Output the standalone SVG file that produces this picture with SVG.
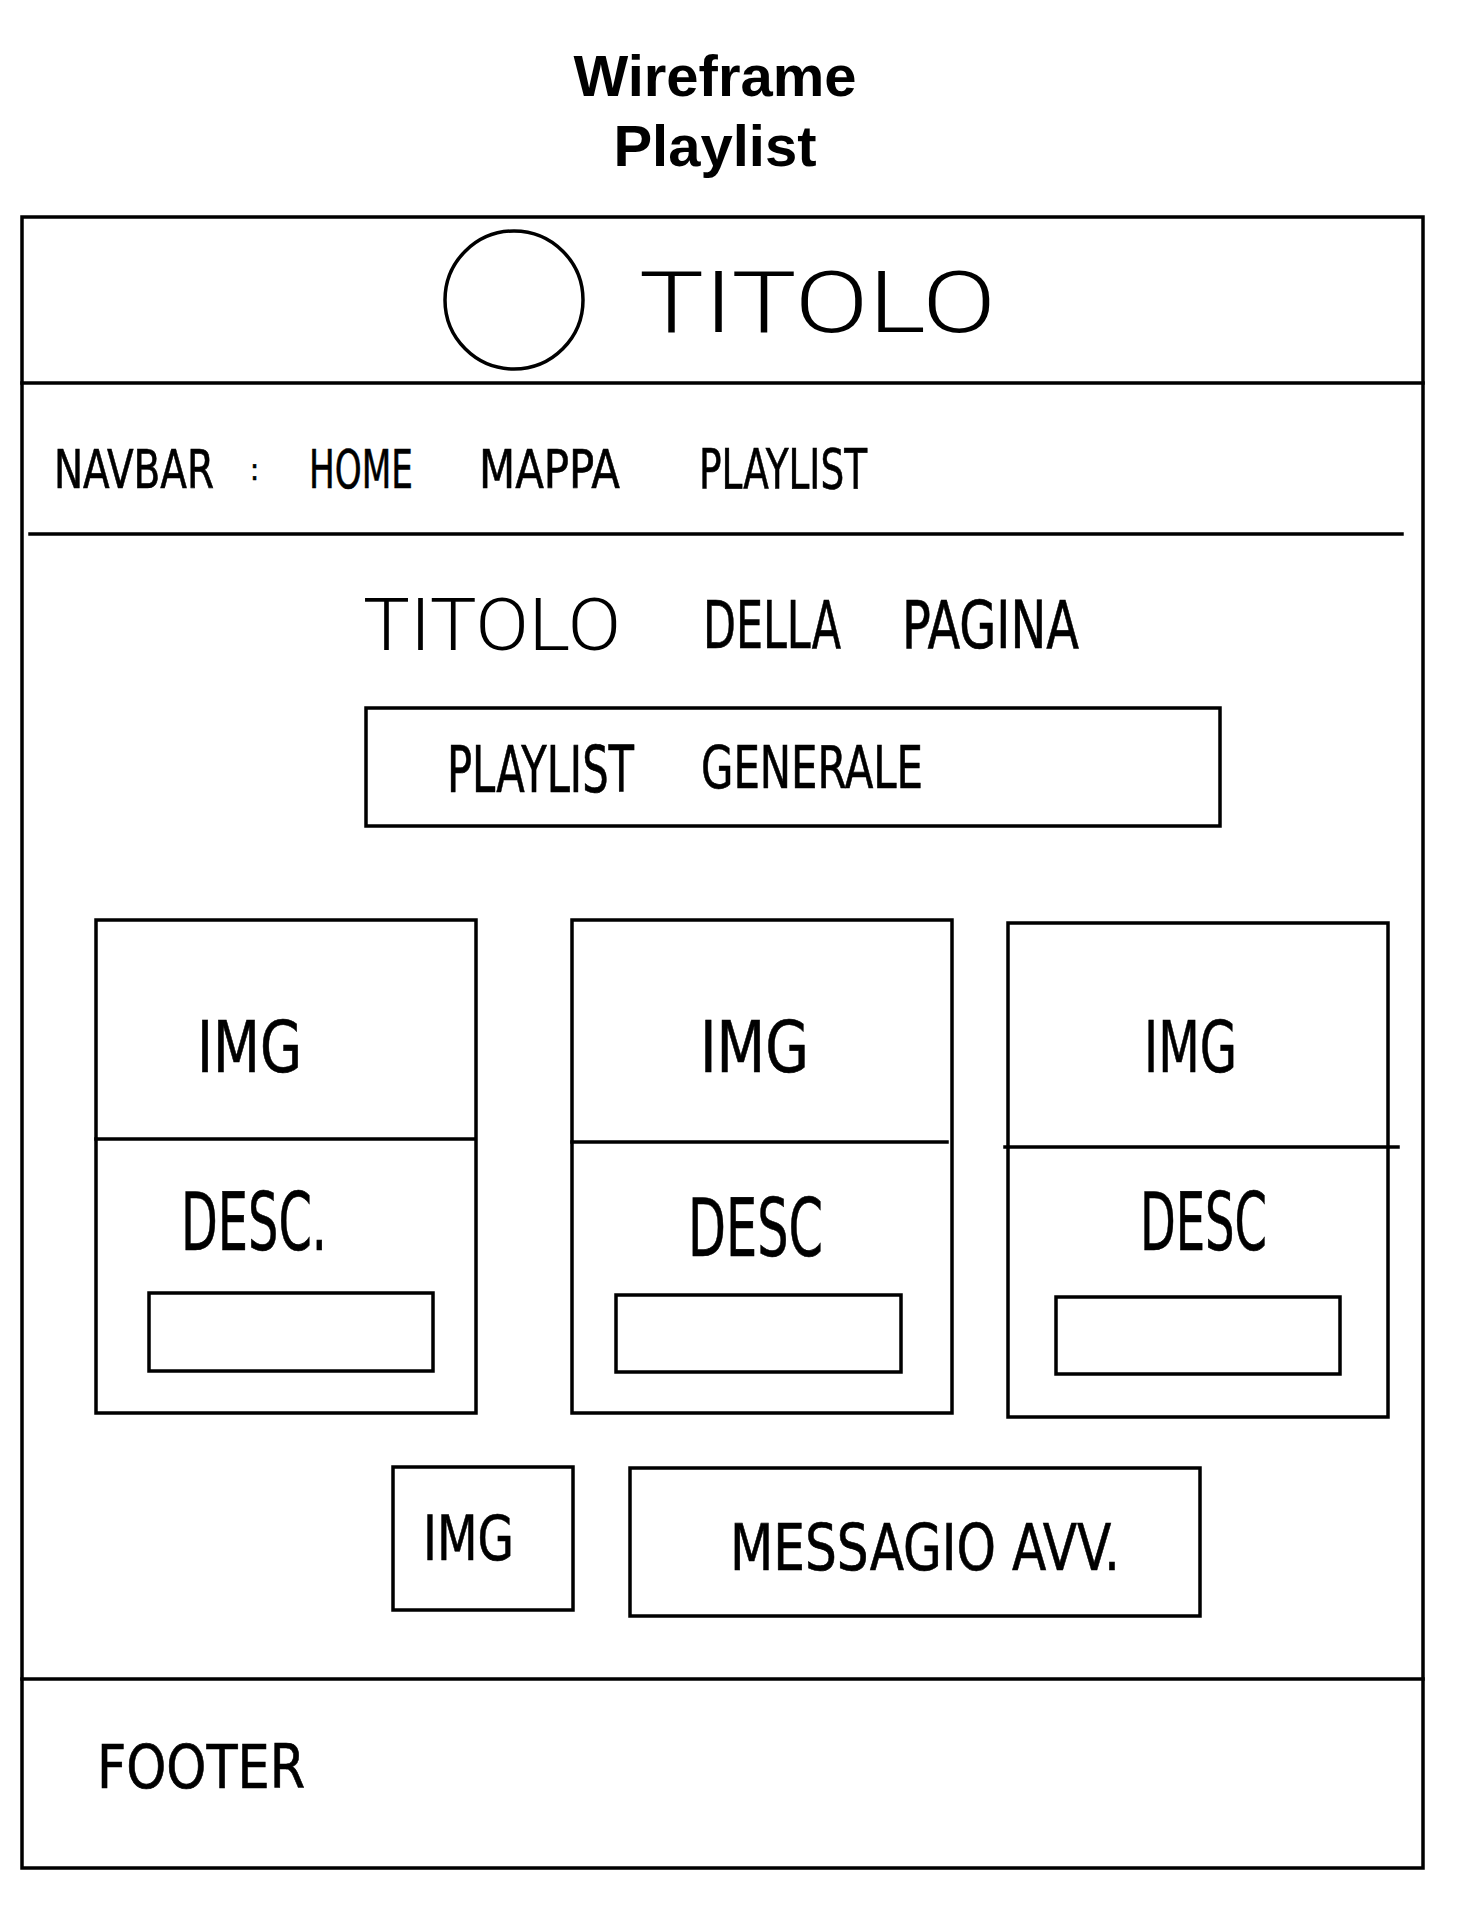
<svg xmlns="http://www.w3.org/2000/svg" width="1458" height="1912" viewBox="0 0 1458 1912">
<style>
.ln{fill:none;stroke:#000;stroke-width:3.5;stroke-linecap:square}
.bx{fill:none;stroke:#000;stroke-width:3.5}
.tt{font-family:"Liberation Sans",Arial,sans-serif;font-weight:bold;font-size:58px;fill:#000;text-anchor:middle}
.hw{font-family:"DejaVu Sans Condensed","DejaVu Sans",sans-serif;fill:#000;stroke:#000;stroke-width:0.6;font-weight:normal}
.thin{font-family:Roboto,"DejaVu Sans",sans-serif;font-weight:300;fill:#000}
</style>
<rect width="1458" height="1912" fill="#fff"/>
<g id="title">
<text class="tt" x="715" y="96">Wireframe</text>
<text class="tt" x="715" y="166">Playlist</text>
</g>
<g id="page">
<rect class="bx" x="22" y="217" width="1401" height="1651"/>
</g>
<g id="header">
<line class="ln" x1="22" y1="383" x2="1423" y2="383"/>
<circle cx="514" cy="300" r="69" fill="none" stroke="#000" stroke-width="3.5"/>
<text class="thin" x="639" y="332" font-size="86" textLength="357" lengthAdjust="spacingAndGlyphs">TITOLO</text>
</g>
<g id="navbar">
<line class="ln" x1="30" y1="534" x2="1402" y2="534"/>
<text class="hw" x="54" y="488" font-size="54" textLength="160" lengthAdjust="spacingAndGlyphs">NAVBAR</text>
<text class="hw" x="250" y="480" font-size="30" stroke-width="0.3">:</text>
<text class="hw" x="309" y="488" font-size="54" textLength="104" lengthAdjust="spacingAndGlyphs">HOME</text>
<text class="hw" x="479" y="488" font-size="54" textLength="141" lengthAdjust="spacingAndGlyphs">MAPPA</text>
<text class="hw" x="699" y="488" font-size="56" textLength="168" lengthAdjust="spacingAndGlyphs">PLAYLIST</text>
</g>
<g id="page-title">
<text class="thin" x="363" y="650" font-size="72" textLength="258" lengthAdjust="spacingAndGlyphs">TITOLO</text>
<text class="hw" x="703" y="648" font-size="66" textLength="138" lengthAdjust="spacingAndGlyphs">DELLA</text>
<text class="hw" x="902" y="648" font-size="66" textLength="177" lengthAdjust="spacingAndGlyphs">PAGINA</text>
</g>
<g id="playlist-generale">
<rect class="bx" x="366" y="708" width="854" height="118"/>
<text class="hw" x="447" y="792" font-size="64" textLength="187" lengthAdjust="spacingAndGlyphs">PLAYLIST</text>
<text class="hw" x="701" y="788" font-size="58" textLength="222" lengthAdjust="spacingAndGlyphs">GENERALE</text>
</g>
<g id="card-1">
<rect class="bx" x="96" y="920" width="380" height="493"/>
<line class="ln" x1="96" y1="1139" x2="474" y2="1139"/>
<text class="hw" x="197" y="1072" font-size="72" textLength="105" lengthAdjust="spacingAndGlyphs">IMG</text>
<text class="hw" x="181" y="1250" font-size="80" textLength="146" lengthAdjust="spacingAndGlyphs">DESC.</text>
<rect class="bx" x="149" y="1293" width="284" height="78"/>
</g>
<g id="card-2">
<rect class="bx" x="572" y="920" width="380" height="493"/>
<line class="ln" x1="572" y1="1142" x2="947" y2="1142"/>
<text class="hw" x="700" y="1072" font-size="72" textLength="109" lengthAdjust="spacingAndGlyphs">IMG</text>
<text class="hw" x="688" y="1256" font-size="80" textLength="135" lengthAdjust="spacingAndGlyphs">DESC</text>
<rect class="bx" x="616" y="1295" width="285" height="77"/>
</g>
<g id="card-3">
<rect class="bx" x="1008" y="923" width="380" height="494"/>
<line class="ln" x1="1005" y1="1147" x2="1398" y2="1147"/>
<text class="hw" x="1144" y="1072" font-size="72" textLength="93" lengthAdjust="spacingAndGlyphs">IMG</text>
<text class="hw" x="1140" y="1250" font-size="80" textLength="127" lengthAdjust="spacingAndGlyphs">DESC</text>
<rect class="bx" x="1056" y="1297" width="284" height="77"/>
</g>
<g id="img-small">
<rect class="bx" x="393" y="1467" width="180" height="143"/>
<text class="hw" x="423" y="1560" font-size="62" textLength="91" lengthAdjust="spacingAndGlyphs">IMG</text>
</g>
<g id="messaggio">
<rect class="bx" x="630" y="1468" width="570" height="148"/>
<text class="hw" x="730" y="1570" font-size="64" textLength="390" lengthAdjust="spacingAndGlyphs">MESSAGIO  AVV.</text>
</g>
<g id="footer">
<line class="ln" x1="22" y1="1679" x2="1423" y2="1679"/>
<text class="hw" x="97" y="1788" font-size="60" textLength="208" lengthAdjust="spacingAndGlyphs">FOOTER</text>
</g>
<g id="connectors"></g>
</svg>
